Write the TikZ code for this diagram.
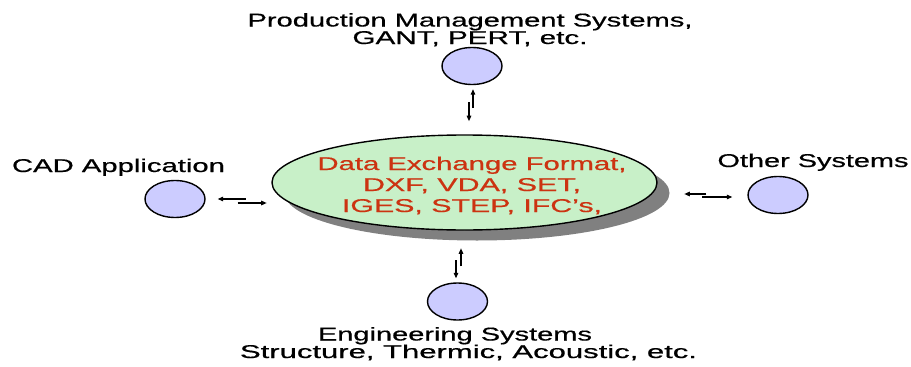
\documentclass[tikz,border=0pt]{standalone}
\usepackage{fontspec}
\setmainfont[UprightFeatures={FakeBold=0.5}]{Liberation Sans}
\usetikzlibrary{arrows.meta,shapes.geometric}
% stretch a line of text horizontally to a given width, keeping its height
\newcommand\wline[2]{\resizebox{#1pt}{\height}{#2}}
\definecolor{sysfill}{RGB}{204,204,255}
\definecolor{hubfill}{RGB}{200,240,200}
\definecolor{hubtext}{RGB}{204,51,17}
\definecolor{hubshadow}{RGB}{128,128,128}
\begin{document}
\begin{tikzpicture}[x=1pt,y=-1pt,
  sysnode/.style={ellipse,draw=black,line width=1.4pt,fill=sysfill,minimum width=60pt,minimum height=37pt,inner sep=0pt},
  label1/.style={align=center,anchor=base,inner sep=0pt,font=\fontsize{18.5}{17.5}\selectfont},
  arr/.style={line width=1.2pt,-{Triangle[length=5.5pt,width=4.5pt]}}]
\useasboundingbox (0,0) rectangle (911,367);
\fill[white] (0,0) rectangle (911,367);
% central exchange format hub with drop shadow
\node[ellipse,fill=hubshadow,minimum width=385pt,minimum height=95pt,inner sep=0pt] (hubshadow) at (477,193) {};
\node[ellipse,draw=black,line width=1.4pt,fill=hubfill,minimum width=385pt,minimum height=95pt,inner sep=0pt] (hub) at (464.5,182.5) {};
\node[align=center,anchor=base,inner sep=0pt,text=hubtext,font=\fontsize{18.5}{21}\selectfont] (hubtxt) at (472,212)
  {\wline{309}{Data Exchange Format,}\\\wline{218}{DXF, VDA, SET,}\\\wline{260}{IGES, STEP, IFC’s,}};
% surrounding systems
\node[sysnode] (top) at (472,66) {};
\node[sysnode] (left) at (175,199) {};
\node[sysnode] (right) at (778,195) {};
\node[sysnode] (bottom) at (457.5,301.5) {};
% labels (multi-line nodes are placed by the baseline of their last line)
\node[label1] (toplab) at (470,44) {\wline{445}{Production Management Systems,}\\\wline{235}{GANT, PERT, etc.}};
\node[label1] (leftlab) at (118.5,172) {\wline{213}{CAD Application}};
\node[label1] (rightlab) at (813,167) {\wline{191}{Other Systems}};
\node[label1] (botlab) at (462,358) {\wline{274}{Engineering Systems}\hspace*{14pt}\\\hspace*{13pt}\wline{457}{Structure, Thermic, Acoustic, etc.}};
% exchange arrows
\draw[arr] ([shift={(1,23)}]top.south) -- ([shift={(1,4)}]top.south);
\draw[arr] ([shift={(-3,17)}]top.south) -- ([shift={(-3,36)}]top.south);
\draw[arr] ([shift={(3.5,-16)}]bottom.north) -- ([shift={(3.5,-34)}]bottom.north);
\draw[arr] ([shift={(-1.5,-22)}]bottom.north) -- ([shift={(-1.5,-4)}]bottom.north);
\draw[arr] ([shift={(40,0)}]left.east) -- ([shift={(12,0)}]left.east);
\draw[arr] ([shift={(32,4)}]left.east) -- ([shift={(61,4)}]left.east);
\draw[arr] ([shift={(-41,-1)}]right.west) -- ([shift={(-63,-1)}]right.west);
\draw[arr] ([shift={(-45,2)}]right.west) -- ([shift={(-15,2)}]right.west);
\end{tikzpicture}
\end{document}
